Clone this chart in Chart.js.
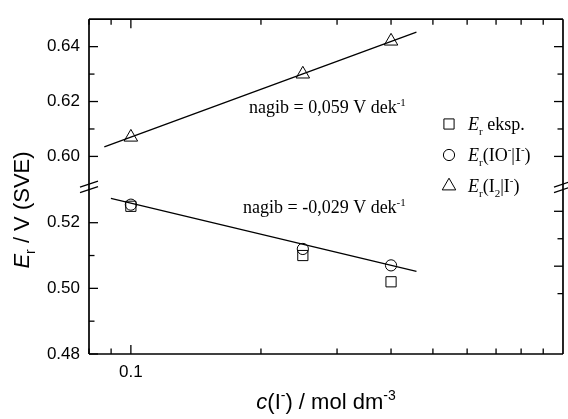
<!DOCTYPE html>
<html>
<head>
<meta charset="utf-8">
<script src="https://cdn.jsdelivr.net/npm/chart.js@4.4.0/dist/chart.umd.min.js"></script>
<style>
  html, body { margin: 0; padding: 0; background: #fff; }
</style>
</head>
<body>
<canvas id="grafikPotencijala" width="568" height="419"></canvas>
<script>
// koncentracija jodida, mol dm-3
const koncentracije = [0.1, 0.25, 0.4];
// Er eksp., Er(IO-|I-), Er(I2|I-) u V
const eksp = [0.525, 0.510, 0.502];
const ioJodid = [0.5255, 0.512, 0.507];
const i2Jodid = [0.607, 0.630, 0.642];

// krajevi pravaca (nagib)
const pravacI2x = [0.0868, 0.458];
const pravacI2y = [0.6035, 0.6453];
const pravacIOx = [0.0899, 0.458];
const pravacIOy = [0.5274, 0.5052];

const xTicks = [0.08, 0.09, 0.1, 0.2, 0.3, 0.4, 0.5, 0.6, 0.7, 0.8, 0.9];
const xOznake = [0.1];
const xDesnaOs = 1;
const yGoreTicks = [0.60, 0.61, 0.62, 0.63, 0.64];
const yDoljeTicks = [0.48, 0.49, 0.50, 0.51, 0.52];
const yGlavni = [0.48, 0.50, 0.52, 0.60, 0.62, 0.64];
const yDesnoDodatni = [0.58, 0.57, 0.56, 0.55];

const SANS = '"Liberation Sans", Arial, sans-serif';
const SERIF = '"Liberation Serif", "Times New Roman", serif';

const tocke = (xs, ys) => xs.map((x, i) => ({ x: x, y: ys[i] }));
const jeGlavni = v => yGlavni.some(g => Math.abs(g - v) < 1e-6);

function bogatiTekst(ctx, dijelovi, x, y, obitelj, vel, poravnanje) {
  const fontZa = d => (d[1] === 'i' ? 'italic ' : '') +
    Math.round(d[1] === 'sub' || d[1] === 'sup' ? vel * 0.62 : vel) + 'px ' + obitelj;
  let sirina = 0;
  dijelovi.forEach(d => { ctx.font = fontZa(d); sirina += ctx.measureText(d[0]).width; });
  let px = poravnanje === 'center' ? x - sirina / 2 : x;
  ctx.textAlign = 'left';
  ctx.textBaseline = 'alphabetic';
  dijelovi.forEach(d => {
    ctx.font = fontZa(d);
    const dy = d[1] === 'sub' ? vel * 0.28 : d[1] === 'sup' ? -vel * 0.42 : 0;
    ctx.fillText(d[0], px, y + dy);
    px += ctx.measureText(d[0]).width;
  });
}

function crta(ctx, x1, y1, x2, y2) {
  ctx.beginPath();
  ctx.moveTo(x1, y1);
  ctx.lineTo(x2, y2);
  ctx.stroke();
}

const okvir = {
  id: 'okvir',
  afterDraw(chart) {
    const { ctx, chartArea: a, scales } = chart;
    const yG = scales.yGore, yD = scales.yDolje;
    // desna os lezi na c = 1, malo izvan platna
    const desno = scales.x.getPixelForValue(xDesnaOs);
    ctx.save();
    ctx.strokeStyle = '#000';
    ctx.fillStyle = '#000';
    ctx.lineWidth = 1.7;
    crta(ctx, a.left, a.top, desno, a.top);
    crta(ctx, a.left, a.bottom, desno, a.bottom);
    crta(ctx, a.left, a.top, a.left, a.bottom);
    crta(ctx, desno, a.top, desno, a.bottom);

    ctx.lineWidth = 1.3;
    xTicks.forEach(v => {
      const px = scales.x.getPixelForValue(v);
      const d = v === 0.1 ? 9 : 5.5;
      crta(ctx, px, a.bottom, px, a.bottom - d);
      crta(ctx, px, a.top, px, a.top + d);
    });
    yGoreTicks.forEach(v => {
      const py = yG.getPixelForValue(v);
      const d = jeGlavni(v) ? 9 : 5.5;
      crta(ctx, a.left, py, a.left + d, py);
      crta(ctx, desno, py, desno - d, py);
    });
    yDoljeTicks.forEach(v => {
      const py = yD.getPixelForValue(v);
      const d = jeGlavni(v) ? 9 : 5.5;
      crta(ctx, a.left, py, a.left + d, py);
    });
    yDesnoDodatni.forEach((v, i) => {
      const py = yG.getPixelForValue(v);
      const d = i % 2 === 0 ? 9 : 5.5;
      crta(ctx, desno, py, desno - d, py);
    });

    // prekid osi
    const yb = yG.bottom;
    [a.left, desno].forEach(xb => {
      crta(ctx, xb - 9, yb + 0.5, xb + 9, yb - 5.5);
      crta(ctx, xb - 9, yb + 6, xb + 9, yb);
    });

    // nagibi
    ctx.fillStyle = '#000';
    bogatiTekst(ctx, [['nagib = 0,059 V dek', 'n'], ['-1', 'sup']], 249, 113, SERIF, 17.5, 'left');
    bogatiTekst(ctx, [['nagib = -0,029 V dek', 'n'], ['-1', 'sup']], 243, 213, SERIF, 17.5, 'left');

    // legenda
    const legenda = [
      ['rect', 7.2, [['E', 'i'], ['r', 'sub'], [' eksp.', 'n']]],
      ['circle', 5.6, [['E', 'i'], ['r', 'sub'], ['(IO', 'n'], ['-', 'sup'], ['|I', 'n'], ['-', 'sup'], [')', 'n']]],
      ['triangle', 7.8, [['E', 'i'], ['r', 'sub'], ['(I', 'n'], ['2', 'sub'], ['|I', 'n'], ['-', 'sup'], [')', 'n']]]
    ];
    legenda.forEach((l, i) => {
      const ly = 124 + i * 31;
      ctx.lineWidth = 1;
      ctx.fillStyle = 'rgba(0,0,0,0)';
      Chart.helpers.drawPoint(ctx, { pointStyle: l[0], radius: l[1], rotation: 0, borderWidth: 1 }, 449, ly);
      ctx.fillStyle = '#000';
      bogatiTekst(ctx, l[2], 468, ly + 6, SERIF, 18, 'left');
    });

    // naslovi osi
    bogatiTekst(ctx, [['c', 'i'], ['(I', 'n'], ['-', 'sup'], [') / mol dm', 'n'], ['-3', 'sup']],
      (a.left + desno) / 2, 409, SANS, 22, 'center');
    ctx.translate(29, 210);
    ctx.rotate(-Math.PI / 2);
    bogatiTekst(ctx, [['E', 'i'], ['r', 'sub'], [' / V (SVE)', 'n']], 0, 0, SANS, 22, 'center');
    ctx.restore();
  }
};

const tickFont = { family: SANS, size: 17 };

new Chart(document.getElementById('grafikPotencijala'), {
  type: 'scatter',
  data: {
    datasets: [
      {
        label: 'Er eksp.', data: tocke(koncentracije, eksp), yAxisID: 'yDolje',
        pointStyle: 'rect', pointRadius: 7.2, borderColor: '#000', backgroundColor: 'rgba(0,0,0,0)', borderWidth: 1
      },
      {
        label: 'Er(IO-|I-)', data: tocke(koncentracije, ioJodid), yAxisID: 'yDolje',
        pointStyle: 'circle', pointRadius: 5.6, borderColor: '#000', backgroundColor: 'rgba(0,0,0,0)', borderWidth: 1
      },
      {
        label: 'Er(I2|I-)', data: tocke(koncentracije, i2Jodid), yAxisID: 'yGore',
        pointStyle: 'triangle', pointRadius: 7.8, borderColor: '#000', backgroundColor: 'rgba(0,0,0,0)', borderWidth: 1
      },
      {
        label: 'pravac I2', data: tocke(pravacI2x, pravacI2y), yAxisID: 'yGore',
        showLine: true, pointRadius: 0, borderColor: '#000', borderWidth: 1.3
      },
      {
        label: 'pravac IO', data: tocke(pravacIOx, pravacIOy), yAxisID: 'yDolje',
        showLine: true, pointRadius: 0, borderColor: '#000', borderWidth: 1.3
      }
    ]
  },
  options: {
    responsive: false,
    animation: false,
    devicePixelRatio: 1,
    layout: { padding: { top: 14, right: 0, left: 0, bottom: 0 } },
    plugins: { legend: { display: false }, tooltip: { enabled: false } },
    scales: {
      x: {
        type: 'logarithmic',
        position: 'bottom',
        min: 0.08,
        max: 0.98,
        grid: { display: false, drawTicks: false },
        border: { display: false },
        afterBuildTicks: s => { s.ticks = xTicks.map(v => ({ value: v })); },
        afterFit: s => { s.height = 65; s.paddingLeft = 0; s.paddingRight = 0; },
        ticks: {
          autoSkip: false, maxRotation: 0, padding: 8, color: '#000', font: tickFont,
          callback: v => xOznake.includes(v) ? String(v) : ''
        }
      },
      yDolje: {
        type: 'linear',
        position: 'left',
        stack: 'e',
        stackWeight: 1,
        min: 0.48,
        max: 0.531,
        grid: { display: false, drawTicks: false },
        border: { display: false },
        afterBuildTicks: s => { s.ticks = yDoljeTicks.map(v => ({ value: v })); },
        afterFit: s => { s.width = 89; },
        ticks: {
          padding: 9, color: '#000', font: tickFont,
          callback: v => jeGlavni(v) ? v.toFixed(2) : ''
        }
      },
      yGore: {
        type: 'linear',
        position: 'left',
        stack: 'e',
        stackWeight: 1,
        min: 0.589,
        max: 0.65,
        grid: { display: false, drawTicks: false },
        border: { display: false },
        afterBuildTicks: s => { s.ticks = yGoreTicks.map(v => ({ value: v })); },
        afterFit: s => { s.width = 89; },
        ticks: {
          padding: 9, color: '#000', font: tickFont,
          callback: v => jeGlavni(v) ? v.toFixed(2) : ''
        }
      }
    }
  },
  plugins: [okvir]
});
</script>
</body>
</html>
